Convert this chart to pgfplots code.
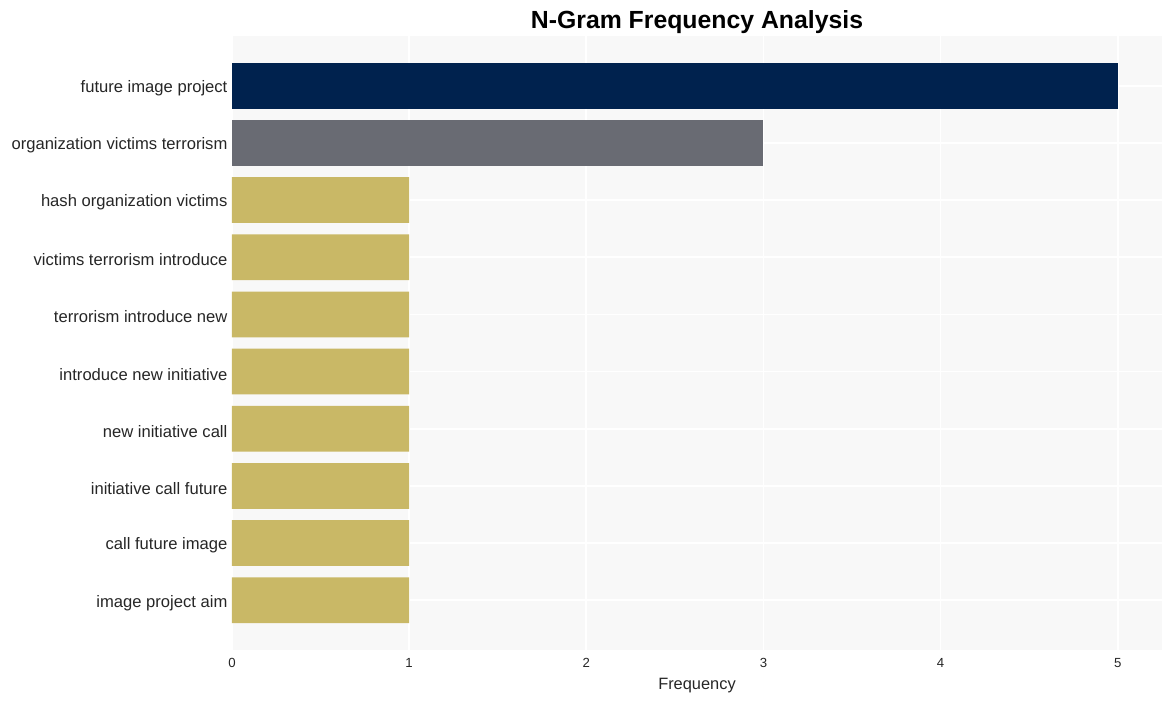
\documentclass[border=0pt]{standalone}
\usepackage{pgfplots}
\pgfplotsset{compat=1.18}
\usepackage{fontspec}
\setmainfont{Liberation Sans}
\usetikzlibrary{calc}
\definecolor{navy}{HTML}{00224E}
\definecolor{slate}{HTML}{696B73}
\definecolor{gold}{HTML}{C9B866}
\definecolor{bg}{HTML}{F8F8F8}
\begin{document}
\begin{tikzpicture}
\begin{axis}[
  name=a,
  scale only axis,
  width=465pt, height=307pt,
  xbar, bar width=0.8, bar shift=0pt,
  xmin=0, xmax=5.25,
  ymin=-0.87, ymax=9.87,
  y dir=reverse,
  ytick={0,...,9},
  yticklabels={future image project,organization victims terrorism,hash organization victims,victims terrorism introduce,terrorism introduce new,introduce new initiative,new initiative call,initiative call future,call future image,image project aim},
  xtick={0,1,2,3,4,5},
  axis line style={draw=none},
  tick style={draw=none},
  axis background/.style={fill=bg},
  grid=major,
  major grid style={draw=white, line width=0.8pt},
  yticklabel style={font=\fontsize{8.3}{9}\selectfont, text=black!85, yshift=-1.3pt},
  xticklabel style={font=\fontsize{6.6}{7}\selectfont, text=black!85},
  /pgf/number format/assume math mode=true,
  yticklabel shift=-5.5pt,
  xticklabel shift=0.5pt,
  xlabel={Frequency},
  xlabel style={font=\fontsize{8.2}{9}\selectfont, text=black!85, yshift=1.5pt},
]
\addplot[fill=navy, draw=none] coordinates {(5,0)};
\addplot[fill=slate, draw=none] coordinates {(3,1)};
\addplot[fill=gold, draw=none] coordinates {(1,2) (1,3) (1,4) (1,5) (1,6) (1,7) (1,8) (1,9)};
\end{axis}
\node[font=\bfseries\fontsize{12.4}{14}\selectfont, anchor=center] at ($(a.north)+(0,7.2pt)$) {N-Gram Frequency Analysis};
\pgfresetboundingbox
\path[use as bounding box] ($(a.south west)+(-116pt,-25.5pt)$) rectangle ($(a.north east)+(4.5pt,18pt)$);
\end{tikzpicture}
\end{document}
